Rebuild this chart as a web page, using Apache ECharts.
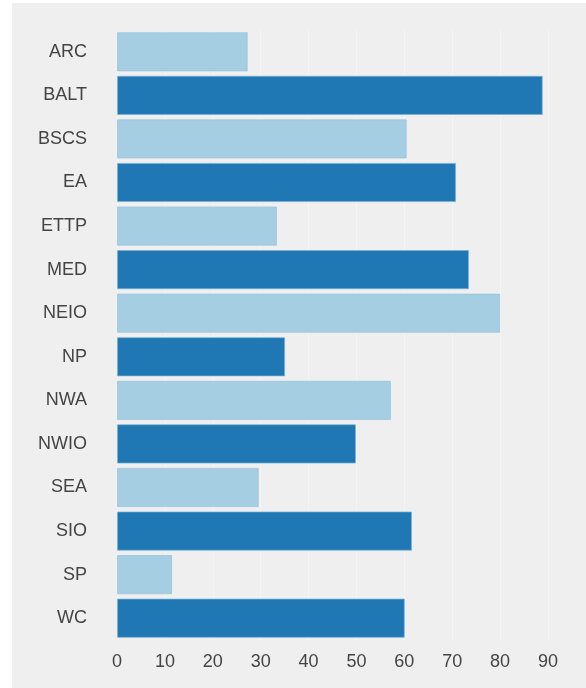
<!DOCTYPE html>
<html>
<head>
<meta charset="utf-8">
<script src="https://cdn.jsdelivr.net/npm/echarts@6/dist/echarts.min.js"></script>
<style>
html,body{margin:0;padding:0;background:#ffffff;}
#chart{width:586px;height:688px;}
</style>
</head>
<body>
<div id="chart"></div>
<script>
const categories = ['ARC','BALT','BSCS','EA','ETTP','MED','NEIO','NP','NWA','NWIO','SEA','SIO','SP','WC'];
const values = [27.3, 88.9, 60.5, 70.8, 33.4, 73.5, 80.0, 35.1, 57.2, 49.9, 29.6, 61.6, 11.5, 60.1];
const xTicks = [0,10,20,30,40,50,60,70,80,90];
const lightColor = '#a6cee3';
const darkColor = '#1f78b4';

const chart = echarts.init(document.getElementById('chart'), null, {renderer:'canvas'});
chart.setOption({
  backgroundColor: 'transparent',
  animation: false,
  graphic: [{
    type: 'rect', z: -100, silent: true,
    shape: {x: 12, y: 3, width: 574, height: 685},
    style: {fill: '#efefef'}
  }],
  grid: {left: 117, right: 38, top: 30, bottom: 48, containLabel: false},
  xAxis: {
    type: 'value', min: xTicks[0], max: xTicks[xTicks.length-1], interval: 10,
    axisLine: {show: false}, axisTick: {show: false},
    axisLabel: {color: '#444', fontSize: 18, fontFamily: 'Liberation Sans, Arial, sans-serif', margin: 13},
    splitLine: {show: true, lineStyle: {color: 'rgba(255,255,255,0.35)', width: 1}}
  },
  yAxis: {
    type: 'category', data: categories, inverse: true,
    axisLine: {show: false}, axisTick: {show: false},
    axisLabel: {color: '#444', fontSize: 18, fontFamily: 'Liberation Sans, Arial, sans-serif', margin: 30}
  },
  series: [{
    type: 'bar',
    data: values.map((v, i) => ({
      value: v,
      itemStyle: {
        color: i % 2 === 0 ? lightColor : darkColor,
        borderColor: i % 2 === 0 ? 'rgba(140,190,220,0.6)' : 'rgba(120,175,215,0.7)',
        borderWidth: 1
      }
    })),
    barCategoryGap: '10%'
  }]
});
</script>
</body>
</html>
